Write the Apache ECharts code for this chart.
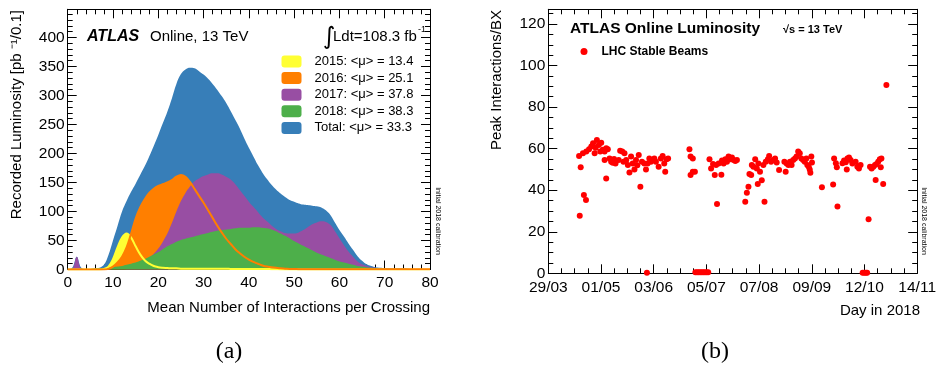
<!DOCTYPE html>
<html>
<head>
<meta charset="utf-8">
<script src="https://cdn.jsdelivr.net/npm/echarts@6/dist/echarts.min.js"></script>
<style>
  html, body { margin: 0; padding: 0; background: #fff; }
  #chart { width: 939px; height: 370px; }
</style>
</head>
<body>
<div id="chart"></div>
<script>
// (a) mean mu distribution, bins of 1 unit from 0 to 80
const muBins = Array.from({ length: 81 }, (_, i) => i);
const lumiTotal = [1, 3, 22, 3, 1, 1, 2, 3, 8, 25, 50, 75, 100, 118, 134, 148, 163, 178, 195, 213,
  232, 252, 272, 295, 320, 337, 345, 348, 347, 342, 336, 329, 320, 310, 299, 287, 273, 258, 243, 226,
  210, 195, 180, 167, 156, 146, 138, 131, 125, 120, 117, 114, 112, 111, 110, 109, 107, 102, 94, 81,
  68, 57, 45, 34, 23, 15, 9, 6, 4, 3, 2.5, 2, 2, 2, 2, 1.5, 1, 1, 1, 0.5, 0];
const lumi2015 = [0, 0, 0, 0, 0, 0, 0, 0, 1, 5, 18, 38, 55, 62, 55, 40, 26, 16, 10, 6,
  4, 3, 2.5, 2, 2, 1.5, 1.5, 1.5, 1.5, 1.5, 1.5, 1.5, 1.5, 1.5, 1.5, 1.5, 1, 1, 1, 1,
  1, 1, 1, 1, 0.8, 0.6, 0.4, 0.2, 0, 0, 0, 0, 0, 0, 0, 0, 0, 0, 0, 0,
  0, 0, 0, 0, 0, 0, 0, 0, 0, 0, 0, 0, 0, 0, 0, 0, 0, 0, 0, 0, 0];
const lumi2016 = [0, 0, 0, 0, 0, 0, 0, 0, 0, 1, 5, 12, 22, 38, 62, 88, 107, 121, 132, 139,
  144, 147, 150, 154, 160, 163, 160, 151, 139, 127, 115, 102, 89, 76, 64, 53, 44, 35, 28, 22,
  17, 13, 10, 7, 5, 4, 3, 2, 1.5, 1, 1, 0.5, 0.5, 0.5, 0.5, 0.5, 0.5, 0.5, 0.5, 0.5,
  0.5, 0.5, 0.5, 0.5, 0.5, 0.5, 0.5, 0.5, 0.5, 0.5, 0.5, 0.5, 0.5, 0.5, 0.5, 0.5, 0.5, 0.5, 0.5, 0.5, 0.5];
const lumi2017 = [0, 1, 22, 1, 0, 0, 0, 0, 0, 0, 0, 0, 0, 1, 3, 5, 8, 13, 20, 27,
  36, 48, 62, 80, 100, 118, 132, 143, 152, 157, 161, 164, 166, 166, 164, 160, 155, 147, 137, 127,
  117, 108, 99, 90, 83, 76, 70, 66, 63, 62, 62, 64, 68, 73, 78, 81, 83, 82, 77, 66,
  54, 42, 31, 22, 14, 9, 6, 4, 3, 2, 2, 1.5, 1.5, 1.5, 1.5, 1, 1, 1, 1, 0.5, 0];
const lumi2018 = [0, 0, 0, 0, 0, 1, 1.5, 2, 2.5, 3, 4, 5, 6, 8, 10, 12, 15, 18, 22, 26,
  30, 35, 40, 44, 48, 51, 53, 55, 57, 59, 61, 63, 65, 67, 68, 69, 70, 71, 72, 72,
  72, 73, 73, 72, 71, 69, 66, 62, 58, 54, 49, 45, 41, 37, 33, 29, 26, 23, 20, 17,
  14, 12, 10, 8, 6, 5, 4, 3, 2.5, 2, 1.5, 1, 1, 1, 1, 1, 0.5, 0.5, 0.5, 0.5, 0];
const legendNames = ['2015: <\u03bc> = 13.4', '2016: <\u03bc> = 25.1', '2017: <\u03bc> = 37.8',
  '2018: <\u03bc> = 38.3', 'Total: <\u03bc> = 33.3'];

// (b) peak interactions per bunch crossing, x = days since 29/03/2018
const dateTicks = ['29/03', '01/05', '03/06', '05/07', '07/08', '09/09', '12/10', '14/11'];
const peakDay = [19.2, 19.6, 20.2, 21.6, 22.2, 23.5, 23.7, 25.4, 26.8, 27.9, 28.9, 29.5, 30.3, 31.5, 32.4,
  33.0, 34.0, 35.1, 35.1, 36.1, 36.1, 37.1, 38.2, 39.2, 40.2, 41.0, 41.9, 43.9, 44.8, 46.1,
  46.9, 47.5, 48.6, 49.6, 50.6, 51.6, 52.6, 53.7, 54.7, 55.5, 56.4, 57.4, 58.4, 59.9, 60.9,
  61.5, 61.9, 63.0, 64.0, 65.0, 66.1, 67.1, 68.8, 70.2, 71.3, 72.3, 72.9, 73.7, 74.7,
  88.0, 88.7, 88.7, 90.1, 90.1, 91.4,
  91.7, 92.7, 93.7, 94.7, 95.7, 96.7, 97.7, 98.7, 99.7,
  100.5, 101.5, 102.7, 103.8, 104.6, 105.2, 106.2, 107.9, 108.3, 109.3, 110.4, 111.4, 112.4,
  113.5, 114.5, 115.5, 116.6, 117.6,
  122.8, 123.8, 124.8, 125.4, 126.5, 126.9, 127.9, 129.0, 130.0, 130.6, 131.0, 132.0, 133.1,
  134.1, 134.8, 135.6, 136.9, 137.7, 138.9, 140.4, 141.4, 142.4, 143.9, 147.2, 148.0, 148.6,
  149.7, 150.7, 151.7, 152.7, 153.8, 154.8, 155.8, 156.8, 157.8, 158.9, 159.9, 160.9, 161.5,
  162.4, 163.0, 163.4, 164.0, 164.4,
  170.6, 177.6, 178.2, 179.3, 179.9, 180.3, 183.4, 184.4, 185.5, 186.1, 186.5, 187.5, 188.5,
  189.6, 191.6, 192.7, 193.7, 194.7,
  196.0, 197.0, 198.0, 198.8,
  199.7, 200.6, 201.6, 202.7, 203.7, 204.1, 204.7, 205.7, 206.7, 207.7, 207.3, 208.8, 210.8];
const peakMu = [56.5, 27.7, 51, 57.8, 37.7, 35.3, 58.6, 59.7, 61, 62.6, 57.8, 60.5, 64.2, 61.8, 58.6,
  62.9, 59.5, 58.6, 54.5, 60.2, 45.7, 59.7, 55.3, 53.7, 53.2, 55.0, 52.9, 54.5, 59, 58.6,
  53.7, 57.8, 54.5, 52.1, 48.5, 56.2, 52.9, 50, 54.5, 52, 57, 41.7, 53.7, 52.9, 50,
  0.3, 52.9, 55.3, 53.7, 54.5, 55.3, 53.7, 51.3, 55.3, 56.5, 52.9, 48.9, 54.9, 55.3,
  59.7, 56.2, 47.3, 55.3, 48.9, 48.9,
  0.5, 0.5, 0.5, 0.5, 0.5, 0.5, 0.5, 0.5, 0.5,
  54.9, 50.5, 52.6, 47.3, 52.1, 33.4, 52.9, 47.5, 54.3, 52.9, 54.9, 53.7, 56.2,
  54.9, 55.7, 54.5, 54.1, 54.5,
  34.5, 38.8, 41.7, 47.8, 47.3, 52.1, 51.3, 54.9, 50.5, 43, 52.9, 48.9, 44.8,
  52.1, 34.5, 53.7, 54.9, 56.5, 53.7, 54.5, 55.3, 53.3, 49.7, 53.7, 48.9, 52.9,
  52.1, 53.7, 52.1, 54.5, 55.3, 56.2, 58.6, 57.8, 55.3, 54.5, 53.7, 55.3, 52.1,
  51.3, 50, 48.4, 56.2, 53.3,
  41.4, 42.7, 55.3, 53, 51, 32.2, 53, 54.3, 53.5, 50, 55.3, 55.8, 54.5,
  52.9, 53.7, 51.3, 50.5, 52.1,
  0.3, 0.3, 0.3, 0.3,
  26, 51.3, 50.5, 51.3, 52.1, 44.9, 52.6, 53.7, 54.9, 55.3, 51, 43, 90.6];

const FONT = '"Liberation Sans", Arial, sans-serif';
const dayStep = 230 / 7;

const chart = echarts.init(document.getElementById('chart'));

const frameAxis = (extra) => Object.assign({
  type: 'value',
  axisLine: { show: true, onZero: false, lineStyle: { color: '#000', width: 1 } },
  axisTick: { show: true, inside: true, length: 9, lineStyle: { color: '#000' } },
  minorTick: { show: true, length: 5, lineStyle: { color: '#000' } },
  splitLine: { show: false },
  axisLabel: { show: false }
}, extra);

const tickLabel = { show: true, color: '#000', fontSize: 15.5, fontFamily: FONT };

const pairs = (ys) => muBins.map((m, i) => [m, ys[i]]);

const areaSeries = (name, ys, color) => ({
  name,
  type: 'line',
  xAxisIndex: 0,
  yAxisIndex: 0,
  data: pairs(ys),
  smooth: 0.4,
  showSymbol: false,
  lineStyle: { width: 0 },
  itemStyle: { color },
  areaStyle: { color, opacity: 1 },
  silent: true
});

const lineSeries = (name, ys, color) => ({
  name,
  type: 'line',
  xAxisIndex: 0,
  yAxisIndex: 0,
  data: pairs(ys),
  smooth: 0.4,
  showSymbol: false,
  lineStyle: { width: 2, color },
  itemStyle: { color },
  silent: true
});

const minor = (n) => ({ show: true, splitNumber: n, length: 5, lineStyle: { color: '#000' } });

const option = {
  animation: false,
  backgroundColor: '#fff',
  grid: [
    { left: 67.7, top: 9.3, width: 362.3, height: 260.2 },
    { left: 548.3, top: 9.3, width: 371.7, height: 264 }
  ],
  xAxis: [
    frameAxis({ gridIndex: 0, min: 0, max: 80, interval: 10, position: 'bottom', minorTick: minor(5),
      axisLabel: Object.assign({ margin: 5 }, tickLabel) }),
    frameAxis({ gridIndex: 0, min: 0, max: 80, interval: 10, position: 'top', minorTick: minor(5) }),
    frameAxis({ gridIndex: 1, min: 0, max: 230, interval: dayStep, position: 'bottom', minorTick: minor(4),
      axisLabel: Object.assign({ margin: 6, formatter: (v) => dateTicks[Math.round(v / dayStep)] || '' }, tickLabel) }),
    frameAxis({ gridIndex: 1, min: 0, max: 230, interval: dayStep, position: 'top', minorTick: minor(4) })
  ],
  yAxis: [
    frameAxis({ gridIndex: 0, min: 0, max: 448.6, interval: 50, position: 'left', minorTick: minor(5),
      axisLabel: Object.assign({ margin: 3, showMaxLabel: false }, tickLabel) }),
    frameAxis({ gridIndex: 0, min: 0, max: 448.6, interval: 50, position: 'right', minorTick: minor(5) }),
    frameAxis({ gridIndex: 1, min: 0, max: 127.1, interval: 20, position: 'left', minorTick: minor(4),
      axisLabel: Object.assign({ margin: 3, showMaxLabel: false }, tickLabel) }),
    frameAxis({ gridIndex: 1, min: 0, max: 127.1, interval: 20, position: 'right', minorTick: minor(4) })
  ],
  legend: [
    {
      data: legendNames,
      orient: 'vertical',
      left: 281.5,
      top: 55,
      padding: 0,
      itemWidth: 20,
      itemHeight: 12,
      itemGap: 3.6,
      icon: 'roundRect',
      textStyle: { color: '#000', fontSize: 13, fontFamily: FONT, lineHeight: 12, padding: [0, 0, 0, 8] },
      selectedMode: false
    },
    {
      data: ['LHC Stable Beams'],
      left: 580.5,
      top: 45.5,
      padding: 0,
      itemWidth: 7,
      itemHeight: 7,
      icon: 'circle',
      textStyle: { color: '#000', fontSize: 12, fontWeight: 'bold', fontFamily: FONT, padding: [0, 0, 0, 9] },
      selectedMode: false
    }
  ],
  series: [
    areaSeries(legendNames[4], lumiTotal, '#377eb8'),
    areaSeries(legendNames[0], lumi2015, '#ffff33'),
    areaSeries(legendNames[1], lumi2016, '#ff7f00'),
    areaSeries(legendNames[2], lumi2017, '#984ea3'),
    areaSeries(legendNames[3], lumi2018, '#4daf4a'),
    lineSeries('2015 line', lumi2015, '#ffff33'),
    lineSeries('2016 line', lumi2016, '#ff7f00'),
    {
      name: 'LHC Stable Beams',
      type: 'scatter',
      xAxisIndex: 2,
      yAxisIndex: 2,
      symbolSize: 6,
      itemStyle: { color: '#ff0000', opacity: 1 },
      data: peakDay.map((d, i) => [d, peakMu[i]]),
      silent: true
    }
  ],
  graphic: [
    { type: 'text', x: 87, y: 37, style: { text: 'ATLAS', font: 'italic bold 16px ' + FONT, fill: '#000', textVerticalAlign: 'middle', verticalAlign: 'middle' } },
    { type: 'text', x: 150, y: 37, style: { text: 'Online, 13 TeV', font: '15px ' + FONT, fill: '#000', textVerticalAlign: 'middle', verticalAlign: 'middle' } },
    { type: 'text', x: 323, y: 38, style: { text: '\u222b', font: '24px "DejaVu Sans", sans-serif', fill: '#000', textVerticalAlign: 'middle', verticalAlign: 'middle' } },
    { type: 'text', x: 333, y: 37, style: { text: 'Ldt=108.3 fb', font: '15px ' + FONT, fill: '#000', textVerticalAlign: 'middle', verticalAlign: 'middle' } },
    { type: 'text', x: 418, y: 30, style: { text: '-1', font: '9px ' + FONT, fill: '#000', textVerticalAlign: 'middle', verticalAlign: 'middle' } },
    { type: 'text', x: 17, y: 10, rotation: Math.PI / 2, style: { text: 'Recorded Luminosity [pb \u207b\u00b9/0.1]', font: '15px ' + FONT, fill: '#000', textAlign: 'right', align: 'right', textVerticalAlign: 'middle', verticalAlign: 'middle' } },
    { type: 'text', x: 430, y: 308, style: { text: 'Mean Number of Interactions per Crossing', font: '15px ' + FONT, fill: '#000', textAlign: 'right', align: 'right', textVerticalAlign: 'middle', verticalAlign: 'middle' } },
    { type: 'text', x: 438, y: 221, rotation: -Math.PI / 2, style: { text: 'Initial 2018 calibration', font: '7px ' + FONT, fill: '#000', textAlign: 'center', align: 'center', textVerticalAlign: 'middle', verticalAlign: 'middle' } },
    { type: 'text', x: 570, y: 29, style: { text: 'ATLAS Online Luminosity', font: 'bold 15.5px ' + FONT, fill: '#000', textVerticalAlign: 'middle', verticalAlign: 'middle' } },
    { type: 'text', x: 783, y: 30, style: { text: '\u221as = 13 TeV', font: 'bold 11px ' + FONT, fill: '#000', textVerticalAlign: 'middle', verticalAlign: 'middle' } },
    { type: 'text', x: 497, y: 10, rotation: Math.PI / 2, style: { text: 'Peak Interactions/BX', font: '15px ' + FONT, fill: '#000', textAlign: 'right', align: 'right', textVerticalAlign: 'middle', verticalAlign: 'middle' } },
    { type: 'text', x: 920, y: 311, style: { text: 'Day in 2018', font: '15px ' + FONT, fill: '#000', textAlign: 'right', align: 'right', textVerticalAlign: 'middle', verticalAlign: 'middle' } },
    { type: 'text', x: 924, y: 221, rotation: -Math.PI / 2, style: { text: 'Initial 2018 calibration', font: '7px ' + FONT, fill: '#000', textAlign: 'center', align: 'center', textVerticalAlign: 'middle', verticalAlign: 'middle' } },
    { type: 'text', x: 229, y: 352, style: { text: '(a)', font: '24px "Liberation Serif", serif', fill: '#000', textAlign: 'center', align: 'center', textVerticalAlign: 'middle', verticalAlign: 'middle' } },
    { type: 'text', x: 715, y: 352, style: { text: '(b)', font: '24px "Liberation Serif", serif', fill: '#000', textAlign: 'center', align: 'center', textVerticalAlign: 'middle', verticalAlign: 'middle' } }
  ]
};

chart.setOption(option);
</script>
</body>
</html>
